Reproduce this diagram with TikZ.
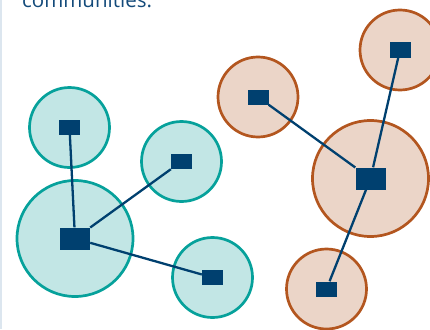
\documentclass[tikz,border=0pt]{standalone}
\usepackage{fontspec}
\setmainfont{Open Sans}
\definecolor{navy}{HTML}{00406F}
\definecolor{captionblue}{HTML}{134A7A}
\definecolor{tealline}{HTML}{06A19B}
\definecolor{tealfill}{HTML}{C2E6E5}
\definecolor{rustline}{HTML}{B3561F}
\definecolor{rustfill}{HTML}{EBD5C8}
\definecolor{frame}{HTML}{DCE6EF}

\begin{document}
\begin{tikzpicture}[
    x=1pt, y=-1pt,
    community/.style={circle, line width=2.7pt, inner sep=0pt, minimum size=80pt},
    tealgroup/.style={community, draw=tealline, fill=tealfill},
    rustgroup/.style={community, draw=rustline, fill=rustfill},
    member/.style={rectangle, fill=navy, inner sep=0pt, minimum width=21pt, minimum height=15pt},
    hub/.style={member, minimum width=30pt, minimum height=22pt},
    link/.style={draw=navy, line width=2.3pt}
]
    \useasboundingbox (0,0) rectangle (430,329);
    \clip (0,0) rectangle (430,329);

    % frame and caption
    \draw[frame, line width=1.5pt] (0.75,0) -- (0.75,329);
    \node[anchor=base west, inner sep=0pt, text=captionblue, font=\fontsize{20.5}{24}\selectfont] (caption) at (22,8) {communities.};

    % teal community
    \node[tealgroup] (T1) at (69.5,127.5) {};
    \node[tealgroup] (T2) at (181.5,161.5) {};
    \node[tealgroup, minimum size=116pt] (T3) at (75,238.5) {};
    \node[tealgroup] (T4) at (212.5,277.5) {};

    % rust community
    \node[rustgroup] (R1) at (258,97) {};
    \node[rustgroup] (R2) at (400,50) {};
    \node[rustgroup, minimum size=116pt] (R3) at (370.5,178.5) {};
    \node[rustgroup] (R4) at (326.5,289) {};

    % members
    \node[member] (t1) at (T1) {};
    \node[member] (t2) at (T2) {};
    \node[hub] (t3) at (T3) {};
    \node[member] (t4) at (T4) {};

    \node[member] (r1) at (R1) {};
    \node[member] (r2) at (R2) {};
    \node[hub] (r3) at (R3) {};
    \node[member] (r4) at (R4) {};

    % ties
    \draw[link] (t1) -- (t3);
    \draw[link] (t2) -- (t3);
    \draw[link] (t4) -- (t3);

    \draw[link] (r1) -- (r3);
    \draw[link] (r2) -- (r3);
    \draw[link] (r4) -- (r3);

\end{tikzpicture}
\end{document}
